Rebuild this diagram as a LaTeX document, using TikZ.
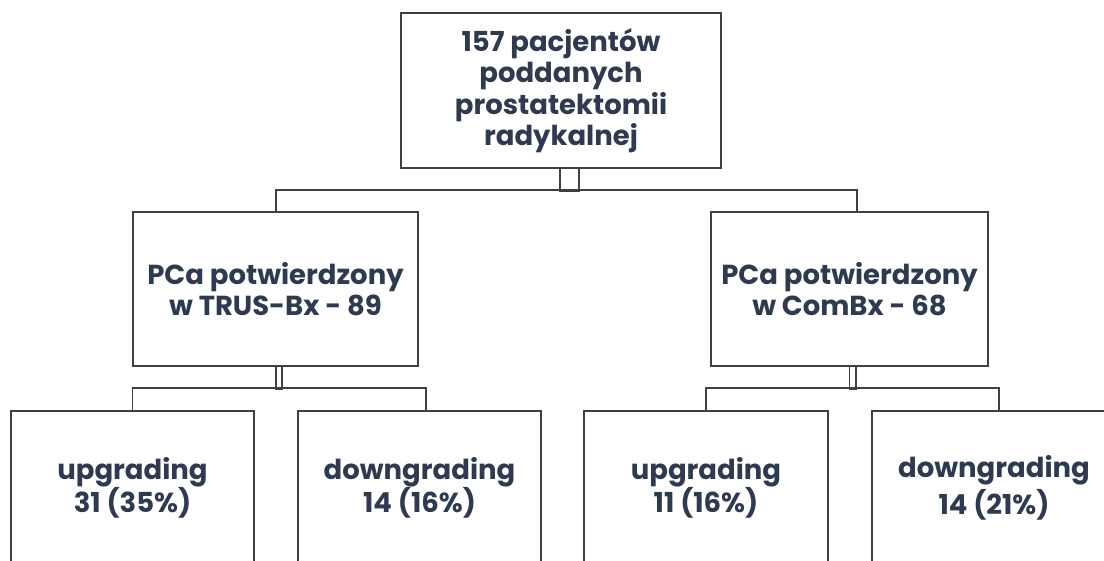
\documentclass[tikz,border=0pt]{standalone}
\usepackage{fontspec}
\setmainfont{Poppins}
\definecolor{txt}{RGB}{46,58,79}
\definecolor{ln}{RGB}{64,64,64}
\begin{document}
\begin{tikzpicture}[x=1pt,y=-1pt,
  box/.style={draw=ln,line width=1.5pt,inner sep=0pt,align=center,
    text=txt,font=\fontsize{27.5}{31.5}\selectfont\bfseries},
  conn/.style={draw=ln,line width=1.5pt}]
\useasboundingbox (0,0) rectangle (1104,561);
\clip (0,0) rectangle (1104,561);
\node[box,minimum width=320pt,minimum height=155pt] (top) at (561,90.5)
  {157 pacjentów\\poddanych\\prostatektomii\\radykalnej};
\node[box,minimum width=285pt,minimum height=154pt] (m1) at (275.5,289)
  {PCa potwierdzony\\w TRUS-Bx - 89};
\node[box,minimum width=277pt,minimum height=154pt] (m2) at (849.5,289)
  {PCa potwierdzony\\w ComBx - 68};
\node[box,minimum width=243pt,minimum height=154pt] (b1) at (132.5,488)
  {upgrading\\31 (35\%)};
\node[box,minimum width=243pt,minimum height=154pt] (b2) at (419.5,488)
  {downgrading\\14 (16\%)};
\node[box,minimum width=244pt,minimum height=154pt] (b3) at (706,488)
  {upgrading\\11 (16\%)};
\node[box,minimum width=244pt,minimum height=154pt,
  font=\fontsize{27.5}{37}\selectfont\bfseries] (b4) at (994,488)
  {downgrading\\14 (21\%)};
% double connectors
\draw[conn] ([xshift=-1pt]top.south) rectangle ([xshift=18pt,yshift=-23pt]top.south);
\draw[conn] ([xshift=0.5pt]m1.south) rectangle ([xshift=6.5pt,yshift=-23pt]m1.south);
\draw[conn] (m2.south) rectangle ([xshift=6.5pt,yshift=-23pt]m2.south);
% branch bars
\draw[conn] ([xshift=0.5pt]m1.north) -- ++(0,-21) -| ([xshift=7.5pt]m2.north);
\draw[conn] (b1.north) -- ++(0,-22) -| ([xshift=6.5pt]b2.north);
\draw[conn] (b3.north) -- ++(0,-22) -| ([xshift=5pt]b4.north);
\end{tikzpicture}
\end{document}
